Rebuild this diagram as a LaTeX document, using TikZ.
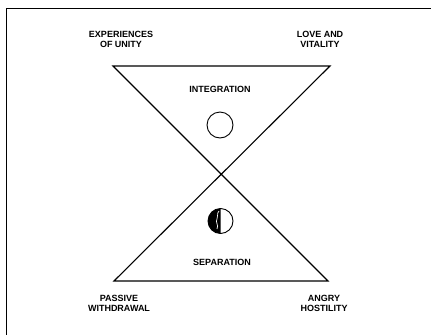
\documentclass[tikz,border=0pt]{standalone}
\usepackage{fontspec}
\setmainfont{Liberation Sans}
\begin{document}
\begin{tikzpicture}[x=1pt,y=-1pt,
  lbl/.style={font=\bfseries\fontsize{9}{10}\selectfont, align=center, inner sep=0pt},
  ln/.style={line width=1.1pt}]
\useasboundingbox (0,0) rectangle (431,335);
% frame (top and left sides only)
\coordinate (ftr) at (431,8);
\coordinate (ftl) at (6.5,8);
\coordinate (fbl) at (6.5,335);
\draw[line width=1pt] (ftr) -- (ftl);
\draw[line width=1.6pt] (ftl) -- (fbl);
% hourglass
\coordinate (tl) at (113,66);
\coordinate (tr) at (330,66);
\coordinate (bl) at (114,281);
\coordinate (br) at (328,281);
\draw[ln] (tl) -- (tr) -- (bl) -- (br) -- cycle;
% circles
\node[draw, circle, line width=0.9pt, minimum size=26pt, inner sep=0pt] (ci) at (220,125) {};
\coordinate (cs) at (220.5,221);
\coordinate (cstop) at (220.5,208.5);
\coordinate (csbot) at (220.5,233.5);
\fill (cstop) arc[start angle=270, end angle=90, radius=12.5] -- cycle;
\draw[line width=0.9pt] (cs) circle[radius=12.5];
\draw[white, line width=0.7pt] (219,211) .. controls (216,214) and (219,216) .. (217,219) .. controls (215,222) and (219,225) .. (217,229);
% labels
\node[lbl] (integ) at (220,89) {INTEGRATION};
\node[lbl] (separ) at (222,262) {SEPARATION};
\node[lbl] (exp) at (121,39) {EXPERIENCES\\OF UNITY};
\node[lbl] (love) at (320,39) {LOVE AND\\VITALITY};
\node[lbl] (pass) at (119,303.5) {PASSIVE\\WITHDRAWAL};
\node[lbl] (angry) at (324,303.5) {ANGRY\\HOSTILITY};
\end{tikzpicture}
\end{document}
